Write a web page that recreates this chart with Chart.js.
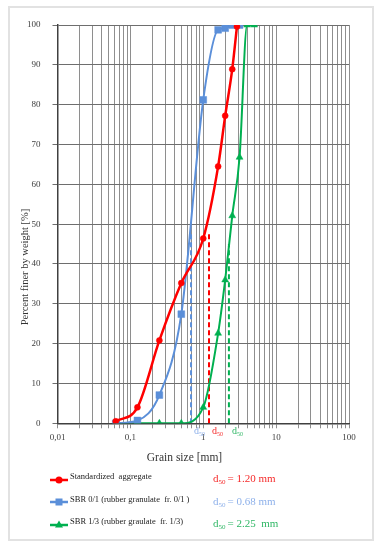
<!DOCTYPE html>
<html>
<head>
<meta charset="utf-8">
<title>Grain size distribution</title>
<script src="https://cdn.jsdelivr.net/npm/chart.js@4.4.1/dist/chart.umd.min.js"></script>
<style>
  html, body { margin: 0; padding: 0; background: #fff; }
  #wrap { width: 381px; height: 550px; }
</style>
</head>
<body>
<div id="wrap"><canvas id="gradingChart" width="381" height="550"></canvas></div>
<script>
// Sieve sizes [mm] and percent passing
var redSizes = [0.063, 0.125, 0.25, 0.5, 1.0, 1.6, 2.0, 2.5, 2.9];
var redPassing = [0.5, 4.0, 20.8, 35.2, 46.4, 64.5, 77.2, 88.9, 99.6];

var blueSizes = [0.063, 0.125, 0.25, 0.5, 1.0, 1.6, 2.0, 2.5, 3.15];
var bluePassing = [0.0, 0.7, 7.1, 27.4, 81.2, 98.8, 99.2, 100, 100];

var greenSizes = [0.063, 0.125, 0.25, 0.5, 1.0, 1.6, 2.0, 2.5, 3.15, 4.0, 5.0];
var greenPassing = [0, 0, 0, 0, 4.0, 22.6, 36.0, 52.1, 66.8, 100, 100];

var seriesNames = [
    'Standardized  aggregate',
    'SBR 0/1 (rubber granulate  fr. 0/1 )',
    'SBR 1/3 (rubber graulate  fr. 1/3)'
];
var d50Values = [1.20, 0.68, 2.25];
var d50Texts = ['1.20 mm', '0.68 mm', '2.25  mm'];
var d50LineTops = [48, 48, 45];

var xDecades = [0.01, 0.1, 1, 10, 100];
var xTickLabels = ['0,01', '0,1', '1', '10', '100'];

var lineColors = ['#ff0000', '#5b8fd9', '#00b050'];
var textColors = ['#f52a2a', '#8db0ea', '#2fb765'];

var serif = "'Liberation Serif', 'DejaVu Serif', serif";

function toPoints(sizes, values) {
    return sizes.map((s, i) => ({ x: s, y: values[i] }));
}

// gridlines at 1..9 x every decade
var gridValues = [];
xDecades.forEach(function (d, i) {
    if (i === xDecades.length - 1) { gridValues.push(d); return; }
    for (var k = 1; k <= 9; k++) gridValues.push(+(d * k).toPrecision(3));
});

function drawMarker(ctx, style, x, y, color) {
    ctx.fillStyle = color;
    ctx.beginPath();
    if (style === 'circle') {
        ctx.arc(x, y, 3.5, 0, Math.PI * 2);
    } else if (style === 'rect') {
        ctx.rect(x - 3.5, y - 3.5, 7, 7);
    } else {
        ctx.moveTo(x, y - 4.5);
        ctx.lineTo(x + 4, y + 2.5);
        ctx.lineTo(x - 4, y + 2.5);
        ctx.closePath();
    }
    ctx.fill();
}

function drawD50(ctx, x, y, size, color, rest) {
    ctx.fillStyle = color;
    ctx.textBaseline = 'middle';
    ctx.textAlign = 'left';
    ctx.font = size + 'px ' + serif;
    ctx.fillText('d', x, y);
    var w = ctx.measureText('d').width;
    ctx.font = Math.round(size * 0.62) + 'px ' + serif;
    ctx.fillText('50', x + w, y + size * 0.3);
    var w2 = ctx.measureText('50').width;
    if (rest) {
        ctx.font = size + 'px ' + serif;
        ctx.fillText(rest, x + w + w2 + 2, y);
    }
}

// titles, d50 labels and the legend block under the plot
var extrasPlugin = {
    id: 'extras',
    beforeDraw: function (chart) {
        var ctx = chart.ctx;
        ctx.save();
        ctx.fillStyle = '#ffffff';
        ctx.fillRect(0, 0, chart.width, chart.height);
        ctx.strokeStyle = '#e2e2e2';
        ctx.lineWidth = 2;
        ctx.strokeRect(9, 7, 364, 533);
        ctx.restore();
    },
    afterDraw: function (chart) {
        var ctx = chart.ctx;
        var xs = chart.scales.x;
        ctx.save();

        // axis titles
        ctx.fillStyle = '#333';
        ctx.font = '11.5px ' + serif;
        ctx.textAlign = 'center';
        ctx.textBaseline = 'middle';
        ctx.fillText('Grain size [mm]', 184.5, 458);

        ctx.save();
        ctx.translate(25, 267);
        ctx.rotate(-Math.PI / 2);
        ctx.font = '10.5px ' + serif;
        ctx.fillText('Percent finer by weight [%]', 0, 0);
        ctx.restore();

        // d50 marks under the axis
        d50Values.forEach(function (v, i) {
            var px = xs.getPixelForValue(v);
            drawD50(ctx, px + 3, 431, 10, textColors[i]);
        });

        // legend rows
        var shapes = ['circle', 'rect', 'triangle'];
        var rowY = [480, 502, 525];
        var textY = [477, 500, 522];
        seriesNames.forEach(function (name, i) {
            ctx.strokeStyle = lineColors[i];
            ctx.lineWidth = 2.5;
            ctx.beginPath();
            ctx.moveTo(50, rowY[i]);
            ctx.lineTo(68, rowY[i]);
            ctx.stroke();
            drawMarker(ctx, shapes[i], 59, rowY[i], lineColors[i]);

            ctx.fillStyle = '#222';
            ctx.font = '8.5px ' + serif;
            ctx.textAlign = 'left';
            ctx.textBaseline = 'middle';
            ctx.fillText(name, 70, textY[i]);

            drawD50(ctx, 213, textY[i] + 2, 11, textColors[i], '= ' + d50Texts[i]);
        });
        ctx.restore();
    }
};

var ctxGrading = document.getElementById('gradingChart').getContext('2d');

var d50Sets = d50Values.map(function (v, i) {
    return {
        label: 'd50 ' + i,
        data: [{ x: v, y: 0 }, { x: v, y: d50LineTops[i] }],
        borderColor: lineColors[i],
        borderWidth: 2,
        borderDash: [5, 3],
        pointRadius: 0,
        tension: 0,
        order: 5
    };
});

var myGradingChart = new Chart(ctxGrading, {
    type: 'line',
    data: {
        datasets: [{
            label: seriesNames[0],
            data: toPoints(redSizes, redPassing),
            borderColor: lineColors[0],
            backgroundColor: lineColors[0],
            borderWidth: 2.5,
            pointStyle: 'circle',
            pointRadius: 3,
            pointBorderWidth: 0.5,
            cubicInterpolationMode: 'monotone',
            order: 1
        }, {
            label: seriesNames[1],
            data: toPoints(blueSizes, bluePassing),
            borderColor: lineColors[1],
            backgroundColor: lineColors[1],
            borderWidth: 2,
            pointStyle: 'rect',
            pointRadius: 4.8,
            pointBorderWidth: 0.5,
            cubicInterpolationMode: 'monotone',
            order: 2
        }, {
            label: seriesNames[2],
            data: toPoints(greenSizes, greenPassing),
            borderColor: lineColors[2],
            backgroundColor: lineColors[2],
            borderWidth: 2,
            pointStyle: 'triangle',
            pointRadius: 4,
            pointBorderWidth: 0.5,
            cubicInterpolationMode: 'monotone',
            order: 3
        }].concat(d50Sets)
    },
    options: {
        responsive: false,
        animation: false,
        devicePixelRatio: 1,
        layout: {
            padding: { left: 0, top: 25, right: 32, bottom: 0 }
        },
        plugins: {
            legend: { display: false },
            tooltip: { enabled: false }
        },
        scales: {
            x: {
                type: 'logarithmic',
                min: 0.01,
                max: 100,
                afterBuildTicks: function (scale) {
                    scale.ticks = gridValues.map(v => ({ value: v }));
                },
                afterFit: function (scale) {
                    scale.height = 126.7;
                },
                ticks: {
                    autoSkip: false,
                    maxRotation: 0,
                    padding: 4,
                    color: '#404040',
                    font: { family: serif, size: 9 },
                    callback: function (value) {
                        var idx = xDecades.findIndex(d => Math.abs(d - value) / d < 1e-6);
                        return idx >= 0 ? xTickLabels[idx] : '';
                    }
                },
                grid: {
                    color: '#8e8e8e',
                    lineWidth: 1,
                    tickLength: 5
                },
                border: { color: '#404040', width: 1.5 }
            },
            y: {
                type: 'linear',
                min: 0,
                max: 100,
                afterFit: function (scale) {
                    scale.width = 57.5;
                },
                ticks: {
                    stepSize: 10,
                    padding: 12,
                    color: '#404040',
                    font: { family: serif, size: 9 }
                },
                grid: {
                    color: '#6e6e6e',
                    lineWidth: 1,
                    tickLength: 5
                },
                border: { color: '#404040', width: 1.5 }
            }
        }
    },
    plugins: [extrasPlugin]
});
</script>
</body>
</html>
